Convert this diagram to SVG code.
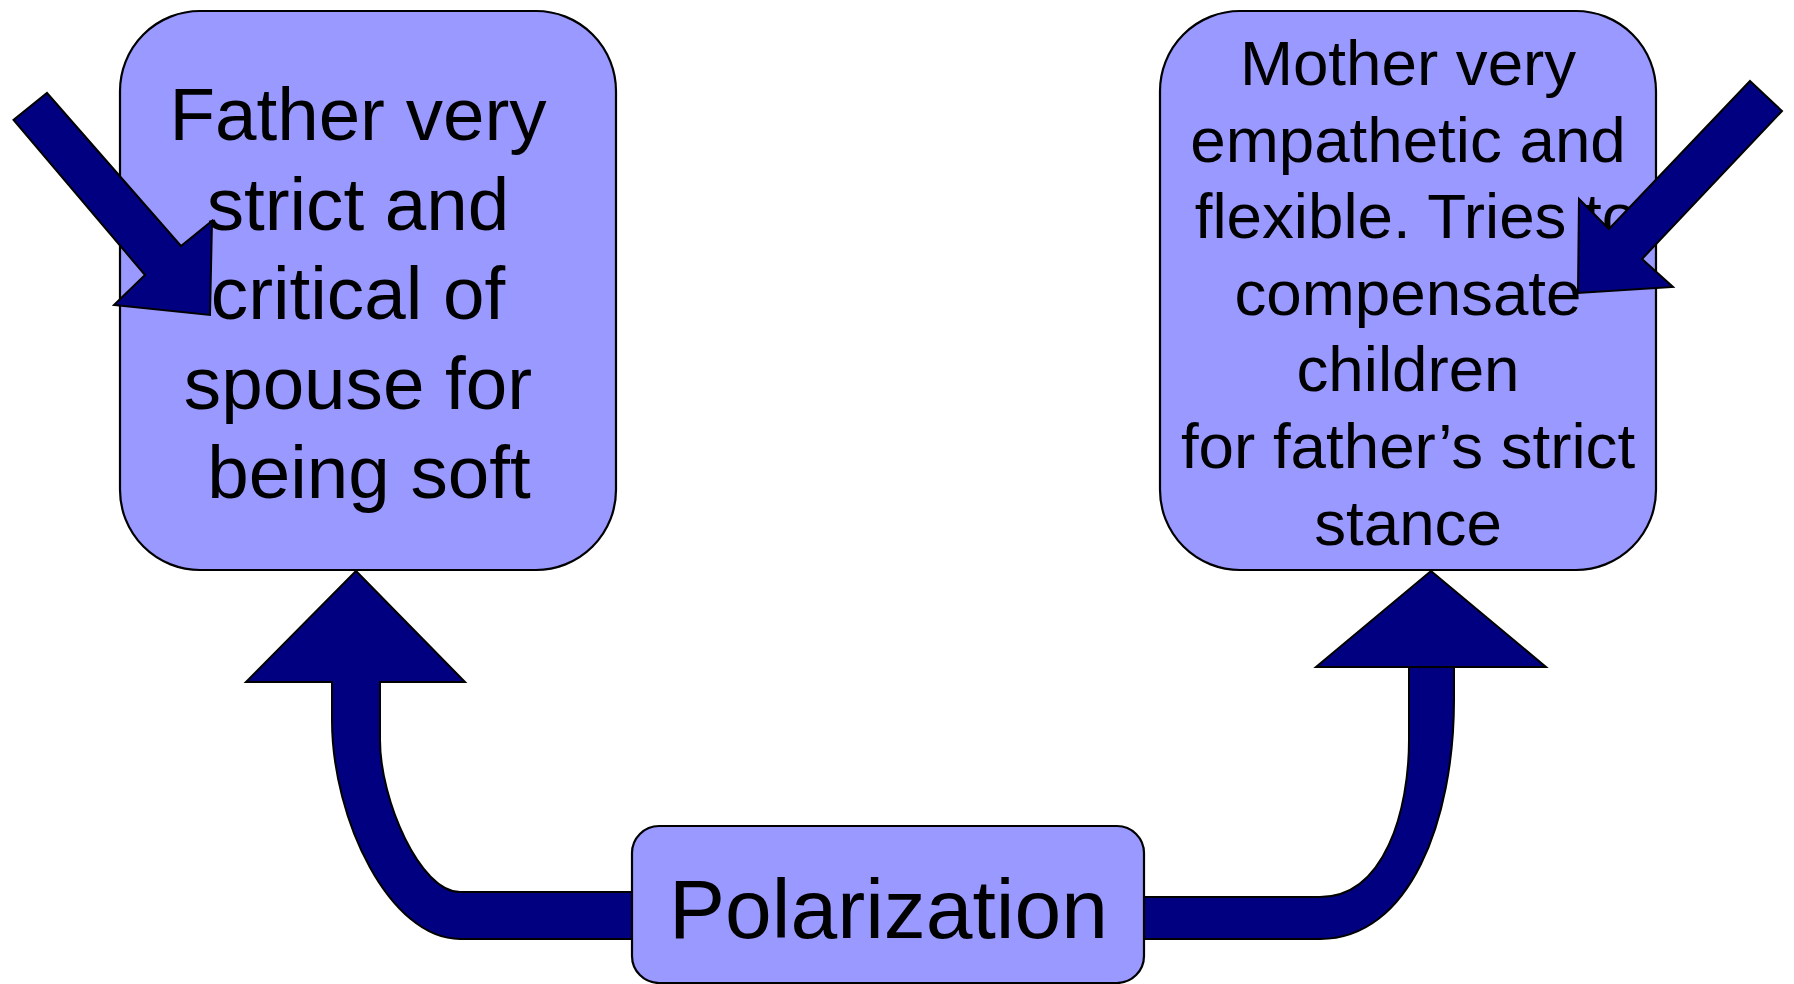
<svg xmlns="http://www.w3.org/2000/svg" width="1794" height="984" viewBox="0 0 1794 984">
<style>
.box{fill:#9999FF;stroke:#000;stroke-width:2.2}
.arr{fill:#000080;stroke:#000;stroke-width:2;stroke-linejoin:miter}
.t{font-family:"Liberation Sans",Arial,sans-serif;fill:#000;text-anchor:middle}
</style>
<rect width="1794" height="984" fill="#fff"/>
<g id="connectors">
<path class="arr" d="M 660 892 L 460 892 C 420 892 380 800 380 740 L 380 682 L 465 682 L 356 571 L 246 682 L 332 682 L 332 720 C 332 820 390 939 460 939 L 660 939 Z"/>
<path class="arr" d="M 1120 897 L 1320 897 C 1385 897 1409 810 1409 740 L 1409 667 L 1546 667 L 1431 571 L 1316 667 L 1454 667 L 1454 700 C 1454 820 1410 939 1320 939 L 1120 939 Z"/>
</g>
<g id="father">
<rect class="box" x="120" y="11" width="496" height="559" rx="80" ry="80"/>
<text class="t" font-size="74.6"><tspan x="358" y="140">Father very</tspan><tspan x="358" y="229.5">strict and</tspan><tspan x="358" y="319">critical of</tspan><tspan x="358" y="408.5">spouse for</tspan><tspan x="369" y="498">being soft</tspan></text>
</g>
<g id="mother">
<rect class="box" x="1160" y="11" width="496" height="559" rx="80" ry="80"/>
<text class="t" font-size="63.7"><tspan x="1408" y="85">Mother very</tspan><tspan x="1408" y="161.6">empathetic and</tspan><tspan x="1416" y="238.2">flexible. Tries to</tspan><tspan x="1408" y="314.8">compensate</tspan><tspan x="1408" y="391.4">children</tspan><tspan x="1408" y="468">for father’s strict</tspan><tspan x="1408" y="544.6">stance</tspan></text>
</g>
<g id="polarization">
<rect class="box" x="632" y="826" width="512" height="157" rx="27" ry="27"/>
<text class="t" x="888.5" y="938" font-size="84">Polarization</text>
</g>
<g id="pointers">
<path class="arr" d="M 47 93 L 181 246 L 212 221 L 210 315 L 114 305 L 145 275 L 13.5 120 Z"/>
<path class="arr" d="M 1750 81 L 1782 111 L 1642 259 L 1673 287 L 1578 293 L 1579 199 L 1609 229 Z"/>
</g>
</svg>
